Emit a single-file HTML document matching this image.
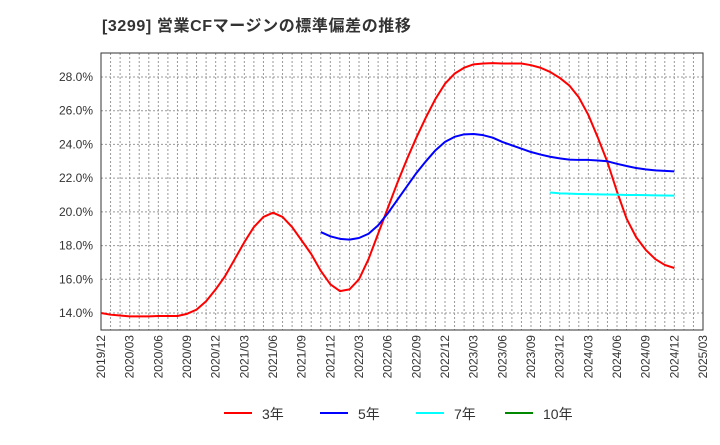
<!DOCTYPE html>
<html><head><meta charset="utf-8"><style>
body{margin:0;background:#fff;width:720px;height:440px;overflow:hidden;font-family:"Liberation Sans","Noto Sans CJK JP",sans-serif}
</style></head><body>
<svg id="chart" width="720" height="440" xmlns="http://www.w3.org/2000/svg" font-family="Liberation Sans, Noto Sans CJK JP, sans-serif">
<text x="102" y="31" font-size="16" font-weight="bold" fill="#333" letter-spacing="0.6">[3299]  営業CFマージンの標準偏差の推移</text>
<g id="grid"></g><g id="axes"></g><g id="series"></g><g id="legend"></g>
</svg>
<script>
const xTickLabels=["2019/12","2020/03","2020/06","2020/09","2020/12","2021/03","2021/06","2021/09","2021/12","2022/03","2022/06","2022/09","2022/12","2023/03","2023/06","2023/09","2023/12","2024/03","2024/06","2024/09","2024/12","2025/03"];
const yTicks=[14,16,18,20,22,24,26,28];
const s3Start=0;
const s3=[14.0,13.9,13.85,13.8,13.8,13.8,13.82,13.82,13.82,13.95,14.2,14.7,15.4,16.2,17.2,18.2,19.1,19.7,19.95,19.7,19.1,18.3,17.5,16.5,15.7,15.3,15.4,16.0,17.2,18.7,20.2,21.7,23.1,24.4,25.6,26.7,27.6,28.2,28.55,28.75,28.8,28.82,28.8,28.8,28.8,28.7,28.55,28.3,27.95,27.5,26.8,25.75,24.4,22.95,21.2,19.6,18.5,17.75,17.2,16.85,16.67];
const s5Start=23;
const s5=[18.8,18.55,18.4,18.35,18.45,18.7,19.2,19.9,20.7,21.5,22.3,23.0,23.65,24.15,24.45,24.6,24.62,24.55,24.4,24.15,23.95,23.75,23.55,23.4,23.27,23.17,23.1,23.08,23.08,23.05,23.0,22.85,22.72,22.6,22.52,22.46,22.43,22.4];
const s7Start=47;
const s7=[21.15,21.1,21.08,21.06,21.05,21.04,21.03,21.02,21.0,21.0,20.99,20.98,20.97,20.96];
const s10=[];
const L=101,R=703,T=53,B=330;
const NS="http://www.w3.org/2000/svg";
function X(i){return L+i*(R-L)/63;}
function Y(v){return 313-(v-14)*(313-77)/14;}
function mk(tag,attrs,parent){const e=document.createElementNS(NS,tag);for(const k in attrs)e.setAttribute(k,attrs[k]);parent.appendChild(e);return e;}
const grid=document.getElementById('grid'),axes=document.getElementById('axes'),ser=document.getElementById('series'),leg=document.getElementById('legend');
for(let i=1;i<63;i++){const l=mk('line',{x1:X(i),x2:X(i),y1:T,y2:B,stroke:'#999','stroke-dasharray':'2,2','stroke-width':1},grid);

}
yTicks.forEach(v=>{const l=mk('line',{x1:L,x2:R,y1:Y(v),y2:Y(v),stroke:'#999','stroke-dasharray':'2,2'},grid);


const t=mk('text',{x:93,y:Y(v)+4,'text-anchor':'end','font-size':12,fill:'#333'},axes);t.textContent=v.toFixed(1)+'%';

});
const fr=mk('rect',{x:L,y:T,width:R-L,height:B-T,fill:'none',stroke:'#333'},axes);


xTickLabels.forEach((s,k)=>{const x=X(k*3);const t=mk('text',{x:0,y:0,transform:`translate(${x+4},${B+5}) rotate(-90)`,'text-anchor':'end','font-size':12,fill:'#333'},axes);t.textContent=s;

});
function line(data,start,color,name){if(!data.length)return;const p=mk('polyline',{points:data.map((v,i)=>X(start+i)+','+Y(v)).join(' '),fill:'none',stroke:color,'stroke-width':2,'stroke-linejoin':'round'},ser);

}
line(s3,s3Start,'#f00','series-3yr');
line(s5,s5Start,'#00f','series-5yr');
line(s7,s7Start,'#0ff','series-7yr');
line(s10,0,'#080','series-10yr');
[['3年','#f00',224],['5年','#00f',320],['7年','#0ff',416],['10年','#080',505]].forEach(([n,c,x])=>{
const g=mk('g',{},leg);


mk('line',{x1:x,x2:x+28,y1:413,y2:413,stroke:c,'stroke-width':2},g);
const t=mk('text',{x:x+38,y:419,'font-size':14,fill:'#333'},g);t.textContent=n;});
</script>
</body></html>
